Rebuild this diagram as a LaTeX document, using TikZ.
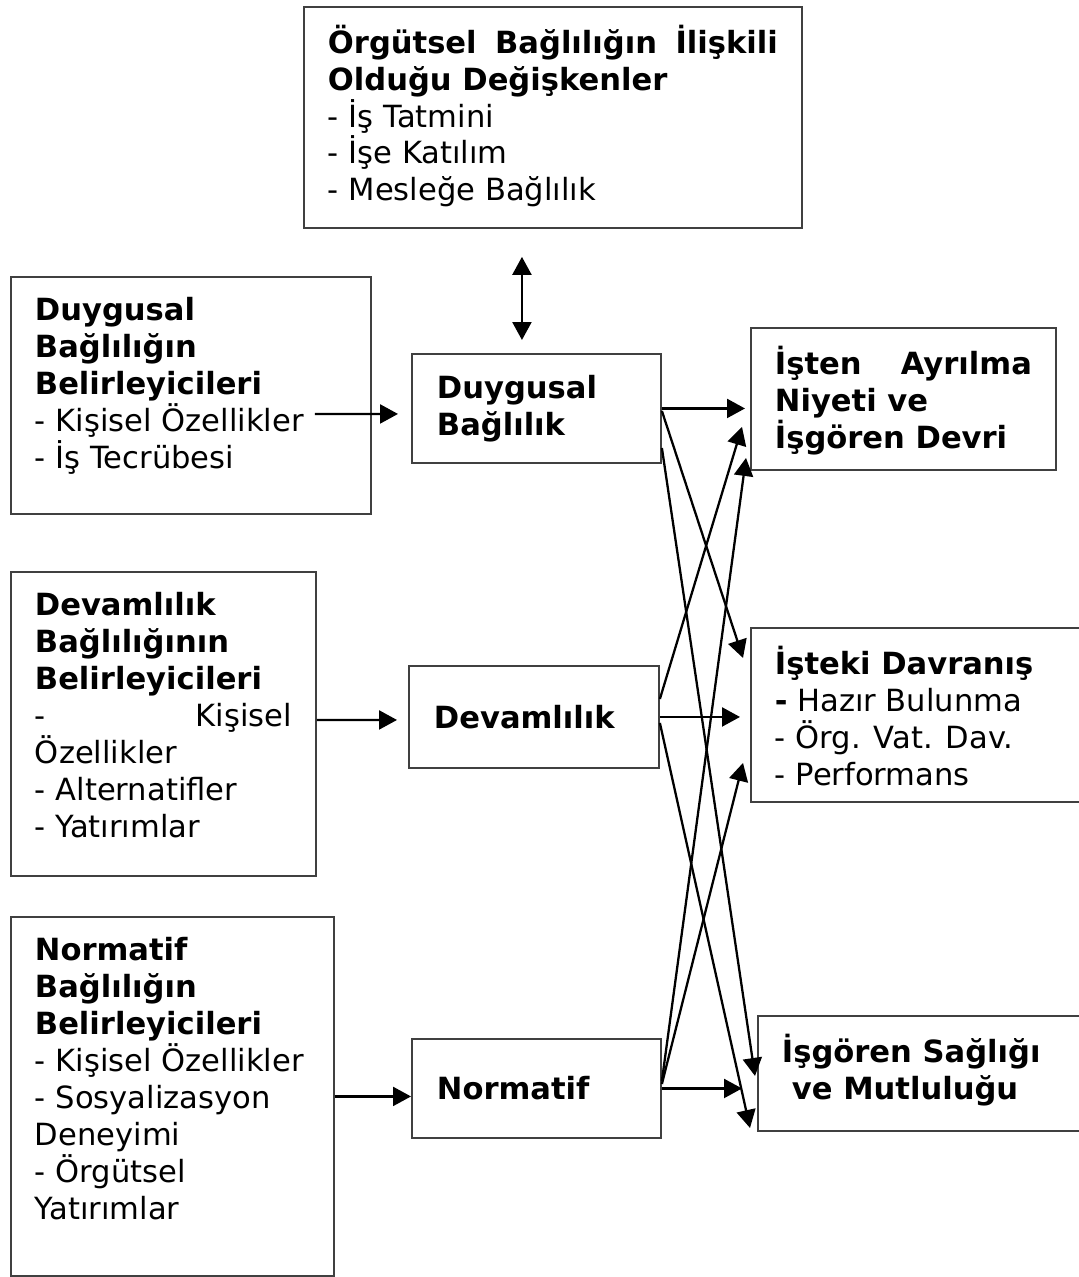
\documentclass[tikz,border=0pt]{standalone}
\usepackage{fontspec}
\setmainfont{DejaVu Sans}
\usetikzlibrary{arrows.meta}
\definecolor{kenar}{HTML}{404040}
\newcommand{\kutuyazi}[3]{\parbox[c][#2][t]{#1}{\strut #3}}
\tikzset{
  kutu/.style={draw=kenar, line width=1.1pt, inner xsep=0.48cm, inner ysep=0.36cm, anchor=north west},
  orta/.style={draw=kenar, line width=1.1pt, inner xsep=0.5cm, inner ysep=0pt, anchor=north west, align=left, font=\fontsize{17.4}{21}\selectfont\bfseries},
  ok/.style={-{Triangle[length=0.36cm,width=0.38cm]}, line width=1.3pt},
  ciftok/.style={{Triangle[length=0.36cm,width=0.38cm]}-{Triangle[length=0.36cm,width=0.38cm]}, line width=1.3pt},
}
\begin{document}
\begin{tikzpicture}[x=0.02cm, y=-0.02cm, every node/.style={font=\fontsize{17.4}{21}\selectfont}]
\path[use as bounding box, fill=white] (0,0) rectangle (1078,1277);

\node[kutu] (ust) at (303,6) {\kutuyazi{9.00cm}{3.70cm}{\textbf{Örgütsel\hfill Bağlılığın\hfill İlişkili}\\
  \textbf{Olduğu Değişkenler}\\
  - İş Tatmini\\
  - İşe Katılım\\
  - Mesleğe Bağlılık}};

\node[kutu] (duyBel) at (10,276) {\kutuyazi{6.24cm}{4.02cm}{\textbf{Duygusal}\\
  \textbf{Bağlılığın}\\
  \textbf{Belirleyicileri}\\
  - Kişisel Özellikler\\
  - İş Tecrübesi}};
\node[kutu] (devBel) at (10,571) {\kutuyazi{5.14cm}{5.36cm}{\textbf{Devamlılık}\\
  \textbf{Bağlılığının}\\
  \textbf{Belirleyicileri}\\
  -\hfill Kişisel\\
  Özellikler\\
  - Alternatifler\\
  - Yatırımlar}};
\node[kutu] (norBel) at (10,916) {\kutuyazi{5.50cm}{6.46cm}{\textbf{Normatif}\\
  \textbf{Bağlılığın}\\
  \textbf{Belirleyicileri}\\
  - Kişisel Özellikler\\
  - Sosyalizasyon\\
  Deneyimi\\
  - Örgütsel\\
  Yatırımlar}};

\node[orta, text width=3.98cm, minimum width=4.98cm, minimum height=2.18cm] (duygusal) at (411,353) {Duygusal\\Bağlılık};
\node[orta, text width=4.00cm, minimum width=5.00cm, minimum height=2.04cm] (devamlilik) at (408,665) {Devamlılık};
\node[orta, text width=3.98cm, minimum width=4.98cm, minimum height=1.98cm] (normatif) at (411,1038) {Normatif};

\node[kutu] (ayrilma) at (750,327) {\kutuyazi{5.14cm}{2.12cm}{\textbf{İşten\hfill Ayrılma}\\
  \textbf{Niyeti ve}\\
  \textbf{İşgören Devri}}};
\node[kutu] (davranis) at (750,627) {\kutuyazi{5.76cm}{2.76cm}{\textbf{İşteki Davranış}\\
  \textbf{-} Hazır Bulunma\\
  - Örg. Vat. Dav.\\
  - Performans}};
\node[kutu] (saglik) at (757,1015) {\kutuyazi{5.62cm}{1.58cm}{\textbf{İşgören Sağlığı}\\
  \hspace*{0.2cm}\textbf{ve Mutluluğu}}};

\coordinate (bag) at ([xshift=-0.29cm]duygusal.north);
\draw[ciftok, shorten <=0.56cm, shorten >=0.26cm] (bag |- ust.south) -- (bag);

\draw[ok] ([xshift=-1.14cm,yshift=-0.37cm]duyBel.east) -- ([xshift=-0.26cm,yshift=-0.11cm]duygusal.west);
\draw[ok] ([yshift=0.08cm]devBel.east) -- ([xshift=-0.22cm,yshift=-0.06cm]devamlilik.west);
\draw[ok] (norBel.east) -- (norBel.east -| normatif.west);

\draw[ok, shorten >=0.1cm] (duygusal.east) -- (duygusal.east -| ayrilma.west);
\draw[ok] ([yshift=-0.05cm]duygusal.east) -- ([xshift=-0.14cm,yshift=1.14cm]davranis.west);
\draw[ok] ([yshift=-0.79cm]duygusal.east) -- ([xshift=-0.04cm,yshift=-0.05cm]saglik.west);

\draw[ok] ([yshift=0.36cm]devamlilik.east) -- ([xshift=-0.16cm,yshift=-0.56cm]ayrilma.west);
\draw[ok, shorten >=0.2cm] (devamlilik.east) -- (devamlilik.east -| davranis.west);
\draw[ok] ([yshift=-0.12cm]devamlilik.east) -- ([xshift=-0.14cm,yshift=-1.09cm]saglik.west);

\draw[ok] ([yshift=0.15cm]normatif.east) -- ([xshift=-0.08cm,yshift=-1.18cm]ayrilma.west);
\draw[ok] ([yshift=0.09cm]normatif.east) -- ([xshift=-0.14cm,yshift=-0.96cm]davranis.west);
\draw[ok, shorten >=0.3cm] (normatif.east) -- (normatif.east -| saglik.west);
\end{tikzpicture}
\end{document}
